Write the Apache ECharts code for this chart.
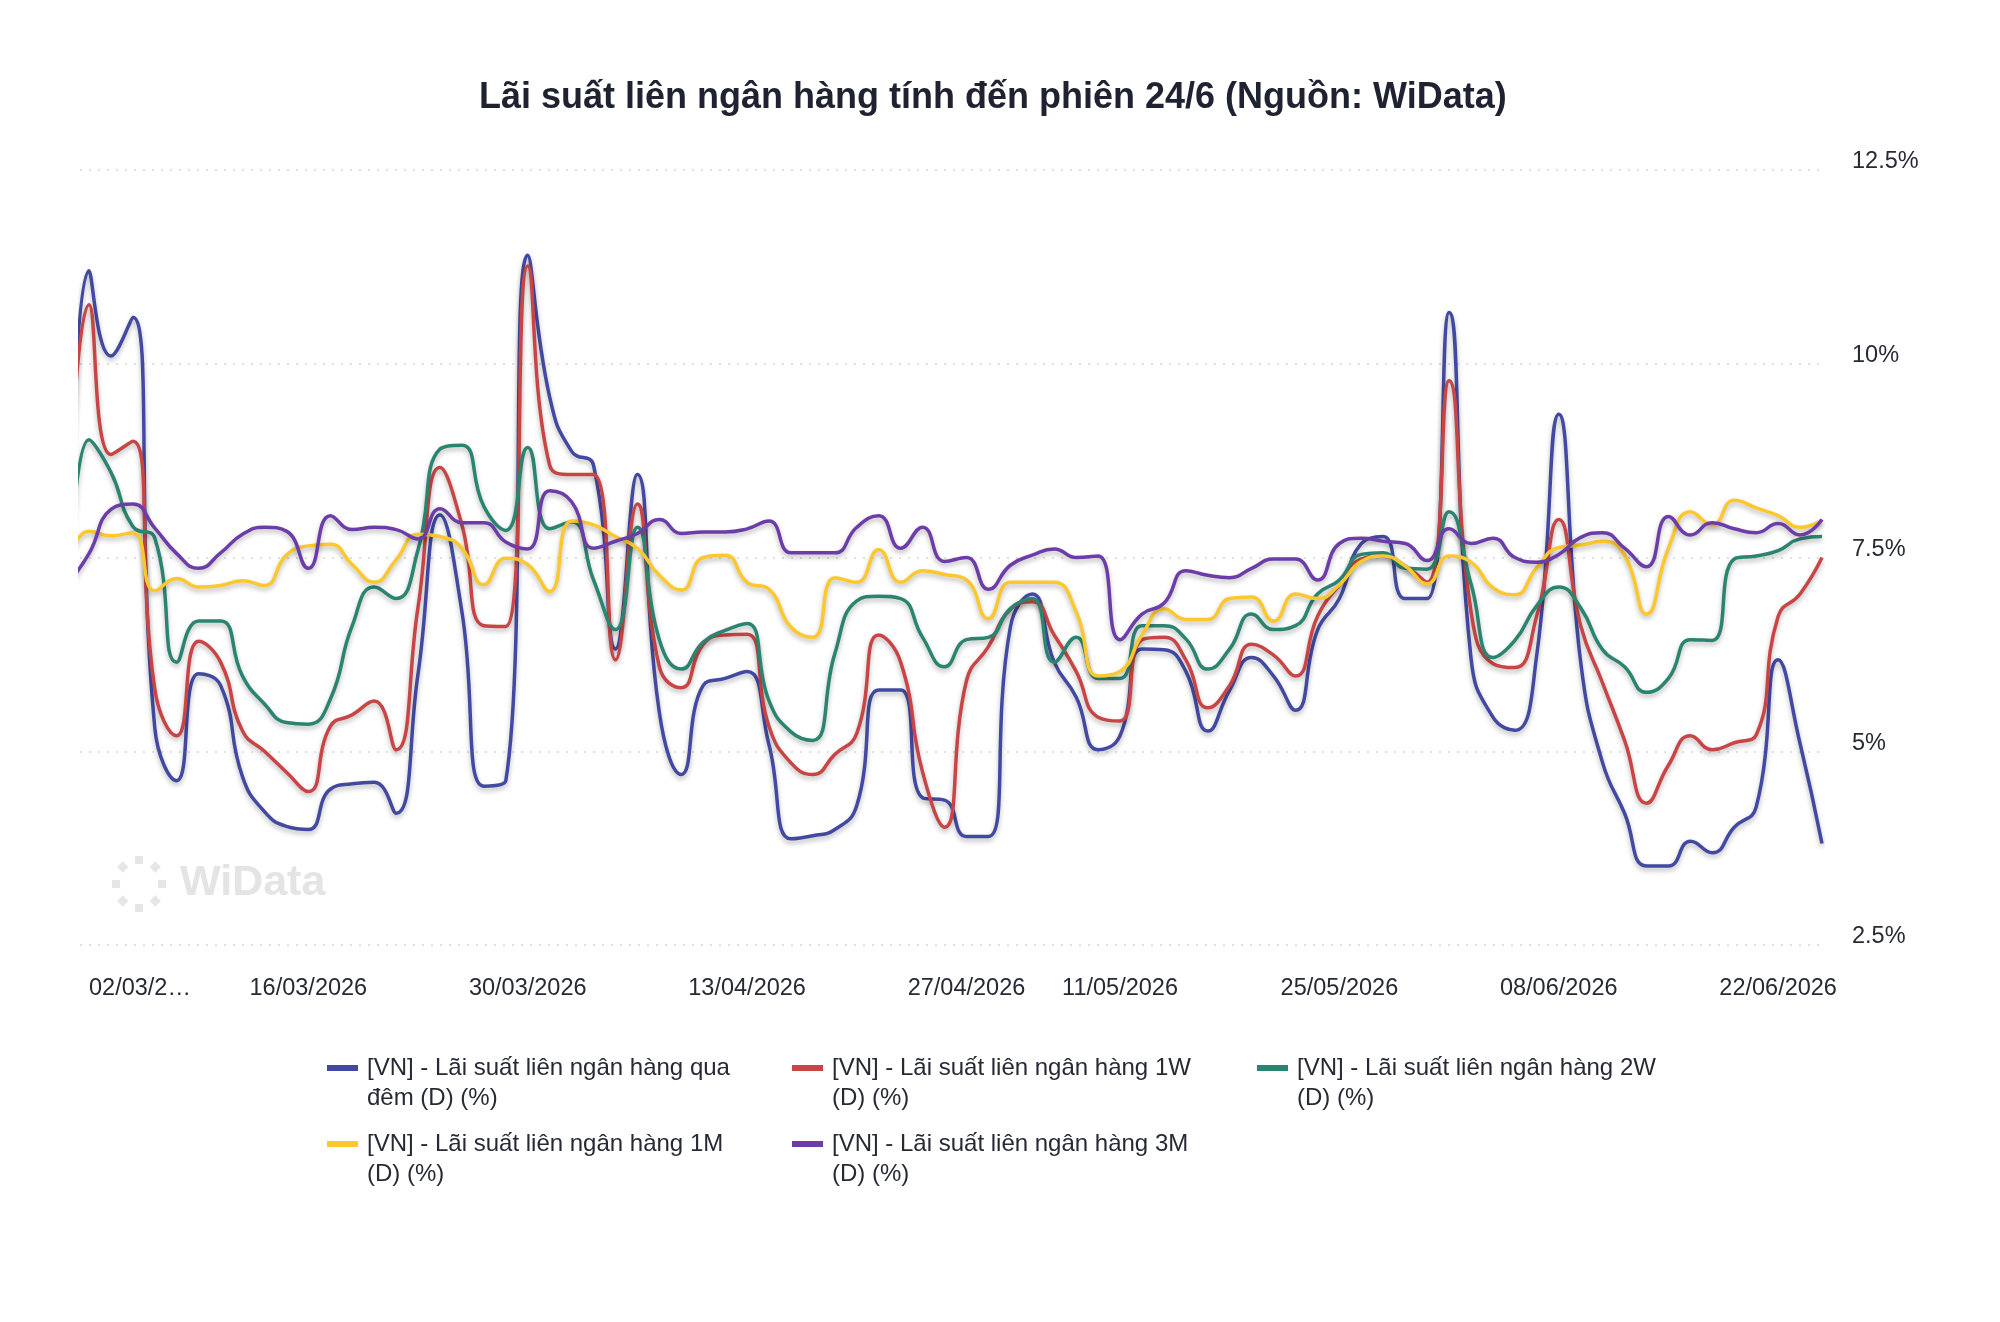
<!DOCTYPE html>
<html>
<head>
<meta charset="utf-8">
<title>Lãi suất liên ngân hàng</title>
<script src="https://cdn.jsdelivr.net/npm/echarts@6/dist/echarts.min.js"></script>
<style>
  html, body { margin: 0; padding: 0; background: #fff; }
  #chart { width: 2000px; height: 1322px; }
</style>
</head>
<body>
<div id="chart"></div>
<script>
// phiên giao dịch; 27/02 chỉ để nối đường ra mép trái (bị cắt)
const dates = [
  '27/02/2026',
  '02/03/2026', '03/03/2026', '04/03/2026', '05/03/2026', '06/03/2026',
  '09/03/2026', '10/03/2026', '11/03/2026', '12/03/2026', '13/03/2026',
  '16/03/2026', '17/03/2026', '18/03/2026', '19/03/2026', '20/03/2026',
  '23/03/2026', '24/03/2026', '25/03/2026', '26/03/2026', '27/03/2026',
  '30/03/2026', '31/03/2026', '01/04/2026', '02/04/2026', '03/04/2026',
  '06/04/2026', '07/04/2026', '08/04/2026', '09/04/2026', '10/04/2026',
  '13/04/2026', '14/04/2026', '15/04/2026', '16/04/2026', '17/04/2026',
  '20/04/2026', '21/04/2026', '22/04/2026', '23/04/2026', '24/04/2026',
  '27/04/2026', '28/04/2026', '29/04/2026', '05/05/2026', '06/05/2026',
  '07/05/2026', '08/05/2026', '11/05/2026', '12/05/2026', '13/05/2026',
  '14/05/2026', '15/05/2026', '18/05/2026', '19/05/2026', '20/05/2026',
  '21/05/2026', '22/05/2026', '25/05/2026', '26/05/2026', '27/05/2026',
  '28/05/2026', '29/05/2026', '01/06/2026', '02/06/2026', '03/06/2026',
  '04/06/2026', '05/06/2026', '08/06/2026', '09/06/2026', '10/06/2026',
  '11/06/2026', '12/06/2026', '15/06/2026', '16/06/2026', '17/06/2026',
  '18/06/2026', '19/06/2026', '22/06/2026', '23/06/2026', '24/06/2026'
]

const tickLabels = ['02/03/2026', '16/03/2026', '30/03/2026', '13/04/2026', '27/04/2026',
  '11/05/2026', '25/05/2026', '08/06/2026', '22/06/2026']

const yTicks = [2.5, 5, 7.5, 10, 12.5]

const seriesNames = [
  '[VN] - Lãi suất liên ngân hàng qua đêm (D) (%)',
  '[VN] - Lãi suất liên ngân hàng 1W (D) (%)',
  '[VN] - Lãi suất liên ngân hàng 2W (D) (%)',
  '[VN] - Lãi suất liên ngân hàng 1M (D) (%)',
  '[VN] - Lãi suất liên ngân hàng 3M (D) (%)'
]

const colors = ['#4249a0', '#c94545', '#2a8470', '#fcc82d', '#6c3ca9']

const overnight = [5.5,
  11.2, 10.1, 10.6, 5.3, 4.62, 6.0, 5.85, 4.67, 4.22, 4.03,
  3.99, 4.51, 4.58, 4.6, 4.2, 6.0, 8.05, 6.8, 4.55, 4.62,
  11.4, 9.57, 8.87, 8.69, 6.32, 8.57, 5.5, 4.7, 5.85, 5.94,
  6.03, 5.08, 3.87, 3.91, 3.99, 4.3, 5.79, 5.79, 4.4, 4.37,
  3.9, 3.9, 6.6, 7.03, 6.15, 5.7, 5.02, 5.2, 6.32, 6.31,
  6.03, 5.26, 5.79, 6.21, 5.97, 5.53, 6.56, 6.97, 7.68, 7.77,
  6.97, 6.97, 10.66, 6.2, 5.44, 5.27, 6.25, 9.35, 6.15, 4.85,
  4.2, 3.52, 3.52, 3.84, 3.69, 4.02, 4.28, 6.18, 5.1, 3.81]

const week1 = [7.5,
  10.76, 8.83, 9.0, 5.8, 5.2, 6.42, 6.15, 5.26, 5.0, 4.73,
  4.48, 5.32, 5.47, 5.65, 5.02, 6.86, 8.66, 7.92, 6.62, 6.61,
  11.26, 8.69, 8.57, 8.57, 6.18, 8.19, 6.09, 5.82, 6.38, 6.5,
  6.51, 5.32, 4.85, 4.7, 4.96, 5.23, 6.5, 6.15, 4.73, 4.02,
  5.91, 6.35, 6.83, 6.93, 6.5, 6.03, 5.44, 5.39, 6.44, 6.47,
  6.18, 5.56, 5.85, 6.38, 6.24, 5.97, 6.74, 7.15, 7.48, 7.52,
  7.39, 7.18, 9.78, 6.8, 6.13, 6.08, 6.75, 7.99, 6.62, 5.88,
  5.14, 4.33, 4.82, 5.2, 5.02, 5.11, 5.21, 6.74, 7.03, 7.5]

const week2 = [6.0,
  9.02, 8.6, 7.9, 7.75, 6.15, 6.68, 6.68, 5.97, 5.61, 5.37,
  5.35, 5.67, 6.62, 7.12, 6.97, 7.6, 8.9, 8.95, 8.16, 7.85,
  8.92, 7.87, 7.96, 7.21, 6.57, 7.89, 6.44, 6.06, 6.41, 6.56,
  6.65, 5.65, 5.25, 5.14, 6.26, 6.94, 7.0, 6.97, 6.47, 6.09,
  6.44, 6.47, 6.84, 6.97, 6.15, 6.47, 5.94, 5.94, 6.62, 6.62,
  6.45, 6.06, 6.32, 6.77, 6.57, 6.62, 7.03, 7.21, 7.54, 7.56,
  7.36, 7.35, 8.09, 7.16, 6.21, 6.43, 6.88, 7.12, 6.85, 6.31,
  6.09, 5.76, 5.94, 6.44, 6.43, 7.48, 7.52, 7.59, 7.74, 7.77]

const month1 = [7.4,
  7.84, 7.78, 7.82, 7.07, 7.23, 7.12, 7.14, 7.2, 7.14, 7.53,
  7.65, 7.67, 7.41, 7.18, 7.47, 7.8, 7.77, 7.62, 7.15, 7.49,
  7.41, 7.06, 7.97, 7.92, 7.77, 7.62, 7.27, 7.08, 7.5, 7.53,
  7.18, 7.09, 6.6, 6.47, 7.24, 7.18, 7.6, 7.18, 7.33, 7.28,
  7.21, 6.71, 7.18, 7.18, 7.18, 6.8, 5.97, 6.03, 6.5, 6.84,
  6.7, 6.7, 6.97, 6.99, 6.68, 7.03, 6.97, 7.15, 7.45, 7.52,
  7.39, 7.16, 7.52, 7.44, 7.11, 7.02, 7.37, 7.63, 7.66, 7.71,
  7.53, 6.77, 7.62, 8.09, 7.92, 8.24, 8.14, 8.04, 7.89, 7.98]

const month3 = [7.15,
  7.55, 8.12, 8.19, 7.88, 7.55, 7.36, 7.56, 7.8, 7.89, 7.84,
  7.36, 8.04, 7.86, 7.89, 7.86, 7.74, 8.13, 7.95, 7.95, 7.7,
  7.61, 8.36, 8.22, 7.62, 7.71, 7.81, 7.99, 7.81, 7.83, 7.83,
  7.87, 7.97, 7.56, 7.56, 7.56, 7.89, 8.04, 7.62, 7.89, 7.45,
  7.5, 7.09, 7.4, 7.53, 7.61, 7.5, 7.52, 6.44, 6.77, 6.91,
  7.33, 7.27, 7.24, 7.36, 7.48, 7.48, 7.21, 7.68, 7.75, 7.71,
  7.68, 7.46, 7.87, 7.68, 7.75, 7.5, 7.44, 7.54, 7.76, 7.82,
  7.62, 7.38, 8.03, 7.79, 7.95, 7.87, 7.82, 7.94, 7.79, 7.99]

const allValues = [overnight, week1, week2, month1, month3]

const textColor = '#262a35'
const fontFamily = '"Liberation Sans", Arial, sans-serif'
const tickIdx = tickLabels.map(l => dates.indexOf(l))

const chart = echarts.init(document.getElementById('chart'))

// logo WiData mờ phía dưới bên trái
const logoDots = []
for (let k = 0; k < 8; k++) {
  const a = k * Math.PI / 4
  logoDots.push({
    type: 'rect',
    x: 139 + 23 * Math.sin(a),
    y: 884 - 24 * Math.cos(a),
    rotation: -a,
    shape: { x: -4, y: -4, width: 8, height: 8 },
    style: { fill: '#e6e6e6' },
    silent: true
  })
}

chart.setOption({
  backgroundColor: '#fff',
  animation: false,
  color: colors,
  title: {
    text: 'Lãi suất liên ngân hàng tính đến phiên 24/6 (Nguồn: WiData)',
    left: 474,
    top: 75,
    textStyle: {
      color: '#1f2230',
      fontSize: 36,
      fontWeight: 'bold',
      fontFamily
    }
  },
  graphic: {
    elements: logoDots.concat([{
      type: 'text',
      x: 180,
      y: 862,
      silent: true,
      style: {
        text: 'WiData',
        fill: '#e4e4e4',
        font: 'bold 43px ' + fontFamily
      }
    }])
  },
  grid: {
    left: 80,
    right: 178,
    top: 170,
    bottom: 377,
    outerBoundsMode: 'none'
  },
  legend: {
    left: 327,
    top: 1053,
    width: 1400,
    padding: 0,
    itemWidth: 31,
    itemHeight: 36,
    itemGap: 16,
    icon: 'path://M0,0h31v6h-31z M0,35.9h0.1v0.1h-0.1z',
    itemStyle: { borderWidth: 0 },
    selectedMode: false,
    formatter: name => name.indexOf('qua đêm') >= 0
      ? name.replace('qua đêm', 'qua\nđêm')
      : name.replace(' (D) (%)', '\n(D) (%)'),
    textStyle: {
      color: textColor,
      fontSize: 24,
      lineHeight: 30,
      width: 409,
      padding: [0, 0, 0, 4],
      fontFamily
    }
  },
  xAxis: {
    type: 'value',
    min: 0.59,
    max: dates.length - 1,
    axisLine: { show: false },
    axisTick: { show: false },
    splitLine: { show: false },
    axisLabel: {
      customValues: tickIdx,
      formatter: v => {
        const d = dates[Math.round(v)]
        return Math.round(v) === tickIdx[0] ? d.slice(0, 7) + '…' : d
      },
      alignMinLabel: 'left',
      color: textColor,
      fontSize: 23.5,
      margin: 32,
      fontFamily
    }
  },
  yAxis: {
    type: 'value',
    position: 'right',
    min: yTicks[0],
    max: yTicks[yTicks.length - 1],
    interval: 2.5,
    axisLine: { show: false },
    axisTick: { show: false },
    splitLine: {
      lineStyle: { type: [2, 7], color: '#d6d6d6', width: 1.5 }
    },
    axisLabel: {
      formatter: v => v + '%',
      margin: 30,
      verticalAlign: 'bottom',
      lineHeight: 16,
      color: textColor,
      fontSize: 23.5,
      fontFamily
    }
  },
  series: seriesNames.map((name, s) => ({
    name,
    type: 'line',
    data: allValues[s].map((v, i) => [i, v]),
    smooth: true,
    symbol: 'none',
    clip: true,
    emphasis: { disabled: true },
    itemStyle: { color: colors[s] },
    lineStyle: {
      width: 3.5,
      color: colors[s],
      shadowColor: 'rgba(0, 0, 0, 0.28)',
      shadowBlur: 5,
      shadowOffsetY: 3
    }
  }))
})
</script>
</body>
</html>
